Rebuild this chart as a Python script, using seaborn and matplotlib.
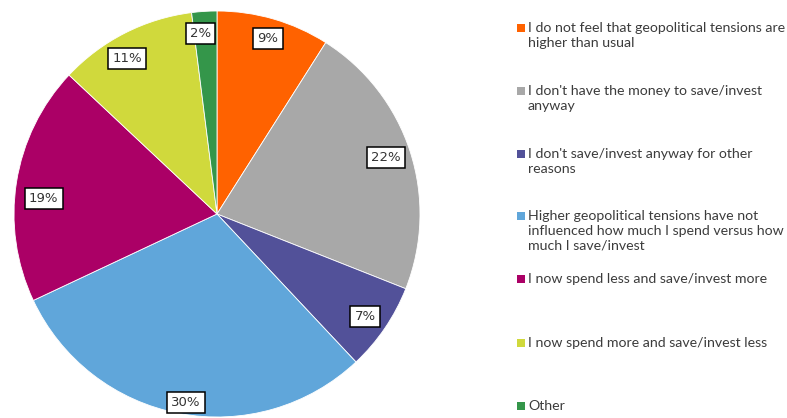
import matplotlib
matplotlib.use("Agg")
import matplotlib.pyplot as plt
from matplotlib.patches import Rectangle
import seaborn as sns

# Survey answers and their shares (percent)
answers = [
    "I do not feel that geopolitical tensions are\nhigher than usual",
    "I don't have the money to save/invest\nanyway",
    "I don't save/invest anyway for other\nreasons",
    "Higher geopolitical tensions have not\ninfluenced how much I spend versus how\nmuch I save/invest",
    "I now spend less and save/invest more",
    "I now spend more and save/invest less",
    "Other",
]
shares = [9, 22, 7, 30, 19, 11, 2]
slice_colors = ["#FF6200", "#A8A8A8", "#525199", "#60A6DA", "#AB0066", "#D0D93C", "#34964A"]

sns.set_theme(style="white")
palette = sns.color_palette(slice_colors)

W, H = 787, 418
fig = plt.figure(figsize=(W / 100, H / 100), dpi=100)
ax = fig.add_axes([14 / W, 1 / H, 406 / W, 406 / H])

wedges, _, autotexts = ax.pie(
    shares,
    colors=palette,
    startangle=90,
    counterclock=False,
    autopct=lambda p: f"{p:.0f}%",
    pctdistance=0.9,
    wedgeprops=dict(edgecolor="white", linewidth=0.6),
    textprops=dict(fontsize=9.5, color="#333333", family="DejaVu Sans"),
)

# small nudges (in data units) so the value boxes sit clear of slice edges
label_nudge = [(0.0, 0.0), (-0.025, 0.0), (-0.015, 0.0), (0.015, -0.045),
               (0.035, -0.065), (-0.035, -0.035), (-0.025, -0.01)]
for t, (dx, dy) in zip(autotexts, label_nudge):
    x, y = t.get_position()
    t.set_position((x + dx, y + dy))
    t.set_bbox(dict(boxstyle="square,pad=0.32", facecolor="white", edgecolor="black", linewidth=1.1))
ax.set_xlim(-1, 1)
ax.set_ylim(-1, 1)
ax.set_aspect("equal")
ax.axis("off")

# Legend: one colour square and wrapped label per answer
first_line_y = [28, 91, 154, 216, 279, 343, 406]
for label, color, yc in zip(answers, palette, first_line_y):
    fig.patches.append(Rectangle((517 / W, (H - yc - 4) / H), 8 / W, 8 / H,
                                 transform=fig.transFigure, facecolor=color, edgecolor="none"))
    fig.text(528 / W, (H - yc + 6) / H, label, ha="left", va="top",
             fontsize=10.2, family="Lato", color="#3c3c3c", linespacing=1.3)

fig.savefig("out.png", dpi=100)
